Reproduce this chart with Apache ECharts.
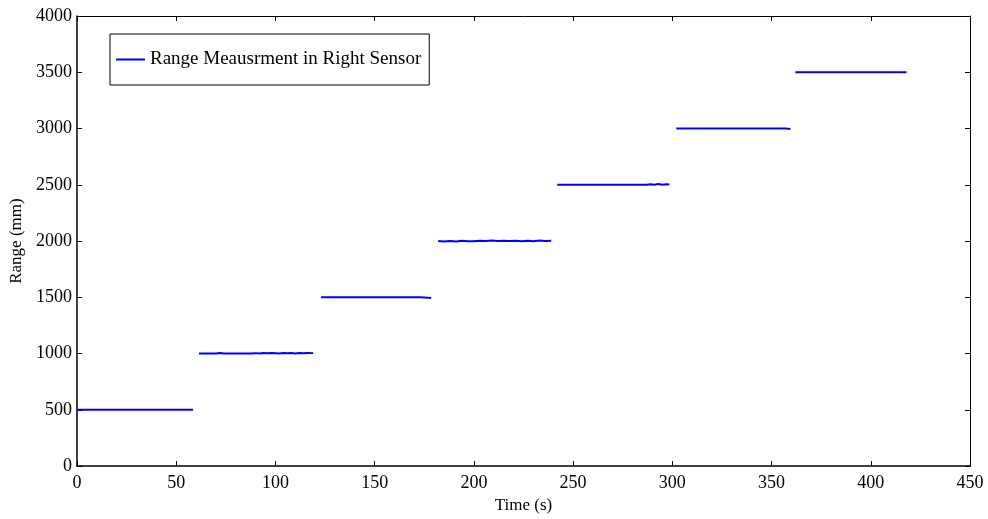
<!DOCTYPE html>
<html>
<head>
<meta charset="utf-8">
<script src="https://cdn.jsdelivr.net/npm/echarts@6/dist/echarts.min.js"></script>
<style>
html, body { margin: 0; padding: 0; background: #fff; }
#main { width: 988px; height: 519px; }
</style>
</head>
<body>
<div id="main"></div>
<script>
var seriesName = 'Range Meausrment in Right Sensor';
var xTicks = [0, 50, 100, 150, 200, 250, 300, 350, 400, 450];
var yTicks = [0, 500, 1000, 1500, 2000, 2500, 3000, 3500, 4000];

// each step of the test: time (s) and range (mm)
var seg1T = [0, 58.5];
var seg1V = [500, 500];
var seg2T = [61.5, 70, 72, 74, 88, 90, 92, 94, 96, 98, 100, 102, 104, 106, 108, 110, 112, 114, 116, 119];
var seg2V = [1000, 1000, 1006, 1000, 1000, 1004, 1001, 1005, 1002, 1006, 1003, 1000, 1005, 1002, 1006, 1001, 1005, 1003, 1006, 1004];
var seg3T = [123, 173, 174, 178.5];
var seg3V = [1500, 1500, 1494, 1494];
var seg4T = [182, 185, 188, 191, 194, 197, 200, 203, 206, 209, 212, 215, 218, 221, 224, 227, 230, 233, 236, 239];
var seg4V = [2000, 1996, 2001, 1997, 2002, 1998, 1999, 2003, 2000, 2004, 2001, 2003, 2000, 2002, 1998, 2003, 1999, 2004, 2000, 2002];
var seg5T = [242, 287, 289, 291, 293, 295, 297, 298.5];
var seg5V = [2500, 2500, 2505, 2501, 2506, 2501, 2505, 2502];
var seg6T = [302, 357, 359.5];
var seg6V = [3000, 3000, 2996];
var seg7T = [362, 383, 384, 385, 418];
var seg7V = [3500, 3500, 3506, 3500, 3500];

var segments = [
    [seg1T, seg1V], [seg2T, seg2V], [seg3T, seg3V], [seg4T, seg4V],
    [seg5T, seg5V], [seg6T, seg6V], [seg7T, seg7V]
];

var font = "'Liberation Serif', 'Times New Roman', serif";
var myChart = echarts.init(document.getElementById('main'));

function makeSeries(seg) {
    var pts = [];
    for (var i = 0; i < seg[0].length; i++) {
        pts.push([seg[0][i], seg[1][i]]);
    }
    return {
        name: seriesName,
        type: 'line',
        data: pts,
        showSymbol: false,
        symbol: 'none',
        animation: false,
        lineStyle: { color: '#0000ff', width: 2 },
        itemStyle: { color: '#0000ff' }
    };
}

function axisBase(show) {
    return {
        type: 'value',
        axisLine: { show: true, onZero: false, lineStyle: { color: '#000', width: show ? 1.5 : 1 } },
        axisTick: { show: true, inside: true, length: 5, lineStyle: { color: '#000' } },
        axisLabel: {
            show: show, color: '#000', fontSize: 18, fontFamily: font,
            formatter: function (v) { return String(v); }
        },
        splitLine: { show: false }
    };
}

var xBottom = axisBase(true);
xBottom.min = xTicks[0];
xBottom.max = xTicks[xTicks.length - 1];
xBottom.interval = 50;
xBottom.position = 'bottom';
xBottom.name = 'Time (s)';
xBottom.nameLocation = 'middle';
xBottom.nameGap = 24;
xBottom.nameTextStyle = { color: '#000', fontSize: 17, fontFamily: font };
xBottom.axisLabel.margin = 8;

var xTop = axisBase(false);
xTop.min = xTicks[0];
xTop.max = xTicks[xTicks.length - 1];
xTop.interval = 50;
xTop.position = 'top';

var yLeft = axisBase(true);
yLeft.min = yTicks[0];
yLeft.max = yTicks[yTicks.length - 1];
yLeft.interval = 500;
yLeft.position = 'left';
yLeft.name = 'Range (mm)';
yLeft.nameLocation = 'middle';
yLeft.nameGap = 45;
yLeft.nameTextStyle = { color: '#000', fontSize: 17, fontFamily: font };
yLeft.axisLabel.margin = 5;

var yRight = axisBase(false);
yRight.min = yTicks[0];
yRight.max = yTicks[yTicks.length - 1];
yRight.interval = 500;
yRight.position = 'right';

option = {
    backgroundColor: '#fff',
    animation: false,
    grid: { left: 77, right: 18, top: 16, bottom: 46, containLabel: false },
    legend: {
        data: [seriesName],
        left: 110,
        top: 34,
        icon: 'rect',
        itemWidth: 29,
        itemHeight: 2,
        itemGap: 0,
        padding: [16, 8, 16, 6],
        borderColor: '#000',
        borderWidth: 1,
        backgroundColor: '#fff',
        textStyle: { color: '#000', fontSize: 19, fontFamily: font }
    },
    xAxis: [xBottom, xTop],
    yAxis: [yLeft, yRight],
    series: segments.map(makeSeries)
};

myChart.setOption(option);
</script>
</body>
</html>
